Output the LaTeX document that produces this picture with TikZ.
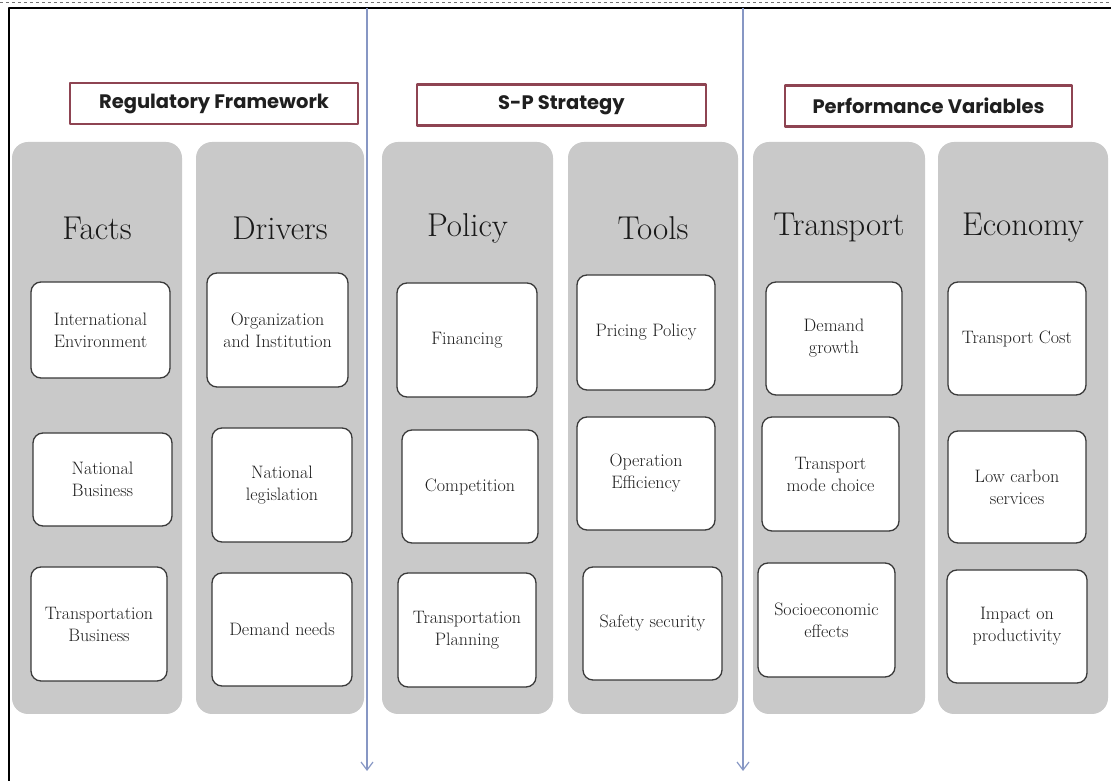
\documentclass[tikz,border=0pt]{standalone}
\usepackage{fontspec}
\newfontfamily\headfont{Poppins}
\usetikzlibrary{arrows.meta}
\definecolor{colgray}{HTML}{C9C9C9}
\definecolor{headred}{HTML}{8E4452}
\definecolor{boxline}{HTML}{3A3A3A}
\definecolor{flowblue}{HTML}{8797C4}
\begin{document}
\begin{tikzpicture}[>={Straight Barb[length=8bp,width=12bp]},line join=bevel,
  column/.style={fill=colgray,draw=none,rounded corners=16bp,minimum height=572bp,inner sep=0pt},
  coltitle/.style={draw=none,text=black!90,font=\fontsize{33bp}{36bp}\selectfont},
  headbox/.style={draw=headred,line width=2.2bp,fill=white,minimum height=41bp,
    text=black!88,font=\headfont\bfseries\fontsize{19.5bp}{22bp}\selectfont},
  itembox/.style={draw=boxline,line width=1.3bp,fill=white,rounded corners=10bp,align=center,
    text=black!88,font=\fontsize{18bp}{22bp}\selectfont},
  flow/.style={flowblue,line width=1.2bp,->},
  ]
%%
\useasboundingbox (0bp,0bp) rectangle (1111bp,781bp);
\draw [black!55,dashed,line width=0.6bp] (0bp,779bp) -- (1111bp,779bp);
\draw [black,line width=1.4bp] (9bp,0bp) -- (9bp,773bp) -- (1111bp,773bp);
%
\node (col_facts) at (97bp,353bp) [column,minimum width=170bp] {};
  \node (col_drivers) at (280bp,353bp) [column,minimum width=168bp] {};
  \node (col_policy) at (467.5bp,353bp) [column,minimum width=171bp] {};
  \node (col_tools) at (653bp,353bp) [column,minimum width=170bp] {};
  \node (col_transport) at (839bp,353bp) [column,minimum width=172bp] {};
  \node (col_economy) at (1023bp,353bp) [column,minimum width=170bp] {};
%
\node (title_facts) at (97bp,553bp) [coltitle] {Facts};
  \node (title_drivers) at (280bp,553bp) [coltitle] {Drivers};
  \node (title_policy) at (467.5bp,553bp) [coltitle] {Policy};
  \node (title_tools) at (653bp,553bp) [coltitle] {Tools};
  \node (title_transport) at (839bp,553bp) [coltitle] {Transport};
  \node (title_economy) at (1023bp,553bp) [coltitle] {Economy};
%
\node (head_regulatory) at (214bp,677.5bp) [headbox,minimum width=288bp] {Regulatory Framework};
  \node (head_strategy) at (561.5bp,676bp) [headbox,minimum width=289bp] {S-P Strategy};
  \node (head_performance) at (928.5bp,675bp) [headbox,minimum width=287bp] {Performance Variables};
%
\node (box_international) at (100.5bp,451bp) [itembox,minimum width=139bp,minimum height=96bp] {International\\Environment};
  \node (box_natbusiness) at (102.5bp,301.5bp) [itembox,minimum width=139bp,minimum height=93bp] {National\\Business};
  \node (box_transbusiness) at (99bp,157bp) [itembox,minimum width=136bp,minimum height=114bp] {Transportation\\Business};
  \node (box_organization) at (277.5bp,451bp) [itembox,minimum width=141bp,minimum height=114bp] {Organization\\and Institution};
  \node (box_legislation) at (282bp,296bp) [itembox,minimum width=140bp,minimum height=114bp] {National\\legislation};
  \node (box_needs) at (282bp,151.5bp) [itembox,minimum width=140bp,minimum height=113bp] {Demand needs};
  \node (box_financing) at (467bp,441bp) [itembox,minimum width=140bp,minimum height=114bp] {Financing};
  \node (box_competition) at (470bp,294.5bp) [itembox,minimum width=136bp,minimum height=113bp] {Competition};
  \node (box_planning) at (467bp,151bp) [itembox,minimum width=138bp,minimum height=114bp] {Transportation\\Planning};
  \node (box_pricing) at (646bp,448.5bp) [itembox,minimum width=138bp,minimum height=115bp] {Pricing Policy};
  \node (box_efficiency) at (646bp,307.5bp) [itembox,minimum width=138bp,minimum height=113bp] {Operation\\Efficiency};
  \node (box_safety) at (652.5bp,157.5bp) [itembox,minimum width=139bp,minimum height=113bp] {Safety security};
  \node (box_growth) at (834bp,442.5bp) [itembox,minimum width=136bp,minimum height=113bp] {Demand\\growth};
  \node (box_modechoice) at (830.5bp,307bp) [itembox,minimum width=137bp,minimum height=114bp] {Transport\\mode choice};
  \node (box_socio) at (826.5bp,161bp) [itembox,minimum width=137bp,minimum height=114bp] {Socioeconomic\\effects};
  \node (box_cost) at (1017bp,442.5bp) [itembox,minimum width=138bp,minimum height=113bp] {Transport Cost};
  \node (box_lowcarbon) at (1017bp,294bp) [itembox,minimum width=138bp,minimum height=112bp] {Low carbon\\services};
  \node (box_impact) at (1017bp,154.5bp) [itembox,minimum width=140bp,minimum height=113bp] {Impact on\\productivity};
%
\coordinate (flow_a_top) at (367bp,773bp);
  \coordinate (flow_a_end) at (367bp,10bp);
  \coordinate (flow_b_top) at (743bp,773bp);
  \coordinate (flow_b_end) at (743bp,10bp);
  \draw [flow] (flow_a_top) -- (flow_a_end);
  \draw [flow] (flow_b_top) -- (flow_b_end);
%
\end{tikzpicture}
\end{document}
